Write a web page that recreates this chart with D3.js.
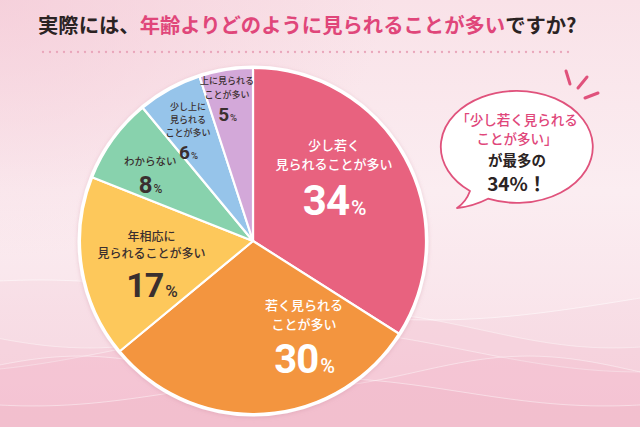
<!DOCTYPE html>
<html><head><meta charset="utf-8">
<script src="https://cdn.jsdelivr.net/npm/d3@7"></script>
<style>html,body{margin:0;padding:0;overflow:hidden;background:#fbe9ee}svg{display:block}</style>
</head><body><svg id="c" width="640" height="427"></svg>
<script>
// ---- data ----
const categories = ["少し若く見られることが多い","若く見られることが多い","年相応に見られることが多い","わからない","少し上に見られることが多い","上に見られることが多い"];
const values = [34,30,17,8,6,5];
const labelLines = [["少し若く","見られることが多い"],["若く見られる","ことが多い"],["年相応に","見られることが多い"],["わからない"],["少し上に","見られる","ことが多い"],["上に見られる","ことが多い"]];
const titleParts = ["実際には、","年齢よりどのように見られることが多い","ですか?"];
const bubbleLines = ["「少し若く見られる","ことが多い」","が最多の"];

// ---- styles ----
const sliceColors = ["#e8627f","#f3953f","#fdc85b","#88d2ad","#96c4ea","#d3a8d9"];
const textColors = ["#ffffff","#ffffff","#3a2f2f","#3a2f2f","#3a2f2f","#3a2f2f"];
const labelRadius = [0.6,0.62,0.6,0.71,0.745,0.84];
const labelAngleFrac = [0.42,0.27,0.45,0.4,0.43,0.43];
const nameSize = [13,13,12,10.5,9,9];
const numSize = [42,40,34,24,19,19];
const pink = "#e0467a", ink = "#2b2323";

const W = 640, H = 427;
const svg = d3.select("#c");
const defs = svg.append("defs");

// background
const bg = defs.append("linearGradient").attr("id","bg").attr("x1",0).attr("y1",0).attr("x2",0).attr("y2",1);
bg.append("stop").attr("offset","0%").attr("stop-color","#f9e2e8");
bg.append("stop").attr("offset","45%").attr("stop-color","#fbedf1");
bg.append("stop").attr("offset","100%").attr("stop-color","#f8dde5");
svg.append("rect").attr("width",W).attr("height",H).attr("fill","url(#bg)");
const rg = defs.append("radialGradient").attr("id","corner").attr("cx",0).attr("cy",0).attr("r",0.6);
rg.append("stop").attr("offset","0%").attr("stop-color","#f4c9d6").attr("stop-opacity",0.7);
rg.append("stop").attr("offset","100%").attr("stop-color","#f4c9d6").attr("stop-opacity",0);
svg.append("rect").attr("width",W).attr("height",H).attr("fill","url(#corner)");

// decorative waves at bottom
const waveSpecs = [[330,18,0.012,0.5,0.16],[350,22,0.009,2.1,0.14],[372,16,0.014,3.6,0.16],[392,14,0.011,1.2,0.18],[300,20,0.008,4.4,0.10]];
waveSpecs.forEach(([base,amp,f,ph,op])=>{
  const pts = d3.range(0,W+10,10).map(x=>[x, base + amp*Math.sin(x*f+ph)]);
  const area = d3.area().x(d=>d[0]).y0(H).y1(d=>d[1]).curve(d3.curveBasis);
  svg.append("path").attr("d",area(pts)).attr("fill","#f0a9bf").attr("opacity",op);
  const line = d3.line().curve(d3.curveBasis);
  svg.append("path").attr("d",line(pts)).attr("fill","none").attr("stroke","#ffffff").attr("stroke-opacity",0.5).attr("stroke-width",1);
});

// title: parts laid out side by side, scaled to span 38..577
const tg = svg.append("g").attr("font-family","'Noto Sans CJK JP', sans-serif").attr("font-weight",700);
const baseSize = 21;
let parts = titleParts.map((p,i)=> tg.append("text").attr("y",33).attr("font-size",baseSize).attr("fill", i===1 ? pink : ink).text(p));
let widths = parts.map(p=>p.node().getComputedTextLength());
const fs = baseSize * 539 / d3.sum(widths);
parts.forEach(p=>p.attr("font-size",fs));
widths = parts.map(p=>p.node().getComputedTextLength());
let xx = 38;
parts.forEach((p,i)=>{ p.attr("x",xx); xx += widths[i]; });

// dotted rule
svg.append("g").selectAll("circle").data(d3.range(43,575,7)).join("circle")
  .attr("cx",d=>d).attr("cy",52).attr("r",1.15).attr("fill","#e9a5ba");

// pie
const cx = 253, cy = 241, R = 173;
const data = categories.map((c,i)=>({cat:c, v:values[i], i}));
const pie = d3.pie().sort(null).value(d=>d.v);
const arcs = pie(data);
const arc = d3.arc().innerRadius(0).outerRadius(R);
const color = d3.scaleOrdinal().domain(categories).range(sliceColors);

const sh = defs.append("filter").attr("id","sh").attr("x","-10%").attr("y","-10%").attr("width","120%").attr("height","120%");
sh.append("feDropShadow").attr("dx",0).attr("dy",1).attr("stdDeviation",2).attr("flood-color","#c9889b").attr("flood-opacity",0.35);

const g = svg.append("g").attr("transform",`translate(${cx},${cy})`);
g.append("circle").attr("r",R+2.5).attr("fill","#ffffff").attr("filter","url(#sh)");
g.selectAll("path.s").data(arcs).join("path").attr("class","s")
  .attr("d",arc).attr("fill",d=>color(d.data.cat))
  .attr("stroke","#ffffff").attr("stroke-width",2.2).attr("stroke-linejoin","round");

// labels
arcs.forEach(a=>{
  const i = a.data.i;
  const ang = a.startAngle + (a.endAngle - a.startAngle)*labelAngleFrac[i];
  const r = R*labelRadius[i];
  const x = r*Math.sin(ang), y = -r*Math.cos(ang);
  const lines = labelLines[i];
  const s = nameSize[i], lh = s*1.47, ns = numSize[i], gap = 1.5;
  const total = lines.length*lh + gap + ns*0.95;
  const top = y - total/2;
  const lg = g.append("g").attr("fill",textColors[i]).attr("text-anchor","middle");
  lines.forEach((t,k)=>{
    lg.append("text").attr("x",x).attr("y",top + s*1.05 + k*lh)
      .attr("font-family","'Noto Sans CJK JP', sans-serif").attr("font-weight",500)
      .attr("font-size",s).text(t);
  });
  const nt = lg.append("text").attr("x",x).attr("y",top + lines.length*lh + gap + ns*0.93)
    .attr("font-family","Roboto, 'Noto Sans', sans-serif").attr("font-weight",700)
    .attr("font-size",ns).attr("letter-spacing",-1);
  nt.append("tspan").text(a.data.v);
  nt.append("tspan").text("%").attr("font-size",ns*0.5).attr("font-weight",500).attr("dx",2);
});

// speech bubble
const bx = 517, by = 147, rx = 76, ry = 56;
const b1 = [470,191], b2 = [488,198.7], tip = [457,208];
svg.append("path")
  .attr("d",`M${b2[0]},${b2[1]} A${rx},${ry} 0 1 0 ${b1[0]},${b1[1]} Q466,202 ${tip[0]},${tip[1]} Q474,206 ${b2[0]},${b2[1]} Z`)
  .attr("fill","#ffffff").attr("stroke","#e0527c").attr("stroke-width",1.8).attr("stroke-linejoin","round");
// emphasis strokes
const strokes = [[[566,71],[570,84]],[[587,77],[578,88]],[[598,93],[585,98]]];
svg.append("g").selectAll("line").data(strokes).join("line")
  .attr("x1",d=>d[0][0]).attr("y1",d=>d[0][1]).attr("x2",d=>d[1][0]).attr("y2",d=>d[1][1])
  .attr("stroke","#e0527c").attr("stroke-width",3).attr("stroke-linecap","round");

const bt = svg.append("g").attr("text-anchor","middle").attr("font-family","'Noto Sans CJK JP', sans-serif");
bt.append("text").attr("x",bx).attr("y",125).attr("font-size",13.5).attr("font-weight",500).attr("fill",pink).text(bubbleLines[0]);
bt.append("text").attr("x",bx).attr("y",144).attr("font-size",13.5).attr("font-weight",500).attr("fill",pink).text(bubbleLines[1]);
bt.append("text").attr("x",bx).attr("y",166).attr("font-size",14.5).attr("font-weight",700).attr("fill",ink).text(bubbleLines[2]);
bt.append("text").attr("x",bx).attr("y",191).attr("font-size",19).attr("font-weight",700).attr("fill",ink).text(d3.max(values) + "%！");
</script></body></html>
